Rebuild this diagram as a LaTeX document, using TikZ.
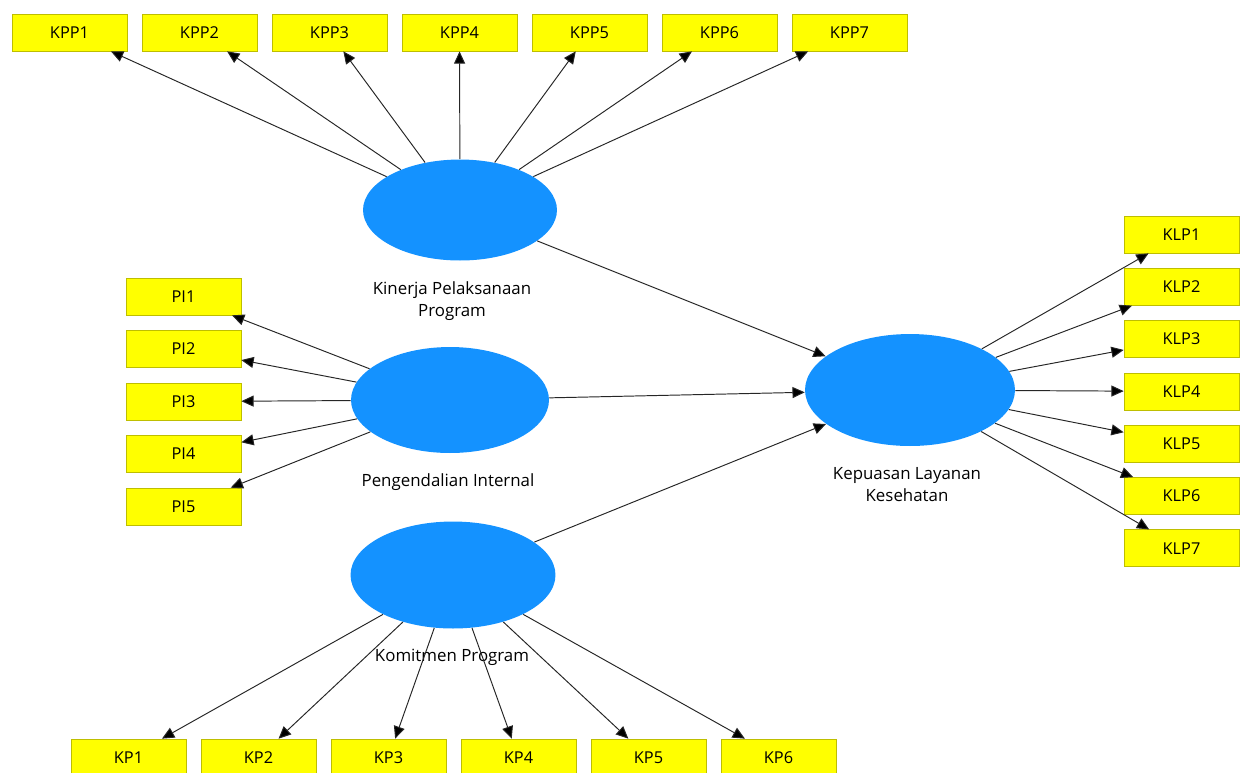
\documentclass[tikz,border=0pt]{standalone}
\usepackage{fontspec}
\setmainfont{Open Sans}
\usetikzlibrary{shapes.geometric,arrows.meta}
\definecolor{lvblue}{RGB}{20,146,255}
\definecolor{indyellow}{RGB}{255,255,0}
\definecolor{indborder}{RGB}{190,190,0}
\tikzset{
  ind/.style={draw=indborder,fill=indyellow,minimum width=2.3cm,minimum height=0.74cm,inner sep=0pt,font=\fontsize{9.3}{10}\selectfont},
  lv/.style={ellipse,fill=lvblue,inner sep=0pt},
  lvlab/.style={align=center,font=\fontsize{9.6}{12.5}\selectfont},
  load/.style={draw=black!85,line width=0.55pt,-{Triangle[length=7pt,width=6.3pt,fill=black]}}
}
\begin{document}
\begin{tikzpicture}[x=0.02cm,y=-0.02cm]
\useasboundingbox (0,0) rectangle (1244,772);
% latent variables
\node[lv,minimum width=3.88cm,minimum height=2.02cm] (kpp) at (460,210) {};
\node[lv,minimum width=3.96cm,minimum height=2.12cm] (pi) at (450,400) {};
\node[lv,minimum width=4.1cm,minimum height=2.14cm] (kp) at (453,575) {};
\node[lv,minimum width=4.2cm,minimum height=2.24cm] (klp) at (910,390) {};
\node[lvlab] (kpplab) at (452,301) {Kinerja Pelaksanaan\\Program};
\node[lvlab] (pilab) at (448,482) {Pengendalian Internal};
\node[lvlab] (kplab) at (452,657) {Komitmen Program};
\node[lvlab] (klplab) at (907,485) {Kepuasan Layanan\\Kesehatan};
% indicators
\foreach \i in {1,...,7}{
  \node[ind] (kpp\i) at ({69.5+130*(\i-1)},32.5) {KPP\i};
  \draw[load] (kpp) -- (kpp\i);
}
\foreach \i in {1,...,5}{
  \node[ind] (pi\i) at (183.5,{296.5+52.5*(\i-1)}) {PI\i};
  \draw[load] (pi) -- (pi\i);
}
\foreach \i in {1,...,7}{
  \node[ind] (klp\i) at (1181.5,{234.5+52.3*(\i-1)}) {KLP\i};
  \draw[load] (klp) -- (klp\i);
}
\foreach \i in {1,...,6}{
  \node[ind] (kp\i) at ({128.5+130*(\i-1)},757.5) {KP\i};
  \draw[load] (kp) -- (kp\i);
}
% paths
\draw[load] (kpp) -- (klp);
\draw[load] (pi) -- (klp);
\draw[load] (kp) -- (klp);
\end{tikzpicture}
\end{document}
